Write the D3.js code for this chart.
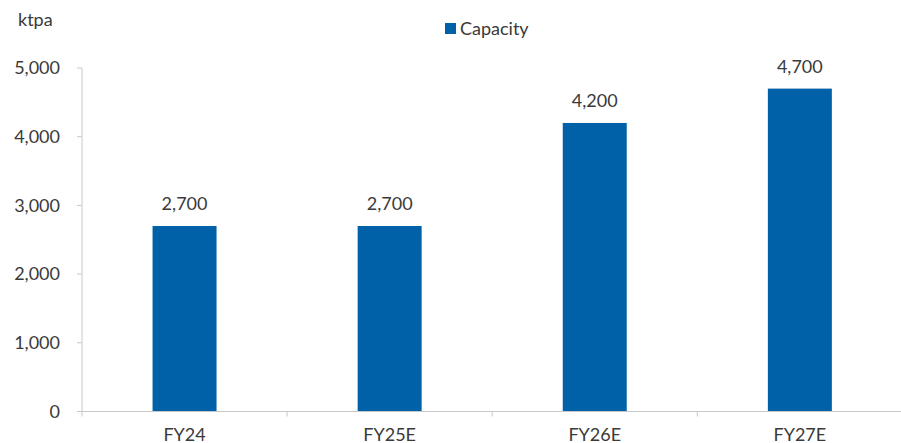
<!DOCTYPE html>
<html>
<head>
<meta charset="utf-8">
<script src="https://cdn.jsdelivr.net/npm/d3@7"></script>
<style>
  html, body { margin: 0; padding: 0; background: #fff; }
  svg text { font-family: Lato, "Open Sans", sans-serif; fill: #3a3a3a; }
</style>
</head>
<body>
<svg id="chart" width="901" height="443"></svg>
<script>
// Capacity by fiscal year (ktpa)
const categories = ["FY24", "FY25E", "FY26E", "FY27E"];
const capacity = [2700, 2700, 4200, 4700];
const yTicks = [0, 1000, 2000, 3000, 4000, 5000];
const seriesName = "Capacity";
const unitLabel = "ktpa";

const svg = d3.select("#chart");
const barColor = "#0061a8";
const axisColor = "#c8c8c8";
const fontSize = 18;

const plotLeft = 82, plotRight = 902.4, plotTop = 68, plotBottom = 411.5;

const x = d3.scaleBand()
  .domain(categories)
  .range([plotLeft, plotRight])
  .paddingInner(0.688)
  .paddingOuter(0.344);

const y = d3.scaleLinear().domain([0, 5000]).range([plotBottom, plotTop]);

const fmt = d3.format(",");

// y axis line and ticks
svg.append("line")
  .attr("x1", plotLeft).attr("x2", plotLeft)
  .attr("y1", y(5000)).attr("y2", plotBottom)
  .attr("stroke", axisColor).attr("stroke-width", 1);

svg.selectAll(".ytick").data(yTicks).enter().append("line")
  .attr("x1", plotLeft - 5).attr("x2", plotLeft)
  .attr("y1", d => y(d)).attr("y2", d => y(d))
  .attr("stroke", axisColor);

svg.selectAll(".ylab").data(yTicks).enter().append("text")
  .attr("x", 60).attr("y", d => y(d))
  .attr("dy", "0.35em")
  .attr("text-anchor", "end")
  .attr("font-size", fontSize)
  .text(d => fmt(d));

// bars
svg.selectAll(".bar").data(categories).enter().append("rect")
  .attr("x", d => x(d))
  .attr("width", x.bandwidth())
  .attr("y", (d, i) => y(capacity[i]))
  .attr("height", (d, i) => plotBottom - y(capacity[i]))
  .attr("fill", barColor);

// value labels
svg.selectAll(".vlab").data(categories).enter().append("text")
  .attr("x", d => x(d) + x.bandwidth() / 2)
  .attr("y", (d, i) => y(capacity[i]) - 16)
  .attr("text-anchor", "middle")
  .attr("font-size", fontSize)
  .text((d, i) => fmt(capacity[i]));

// x axis baseline with category dividers
svg.append("line")
  .attr("x1", plotLeft).attr("x2", plotRight)
  .attr("y1", plotBottom).attr("y2", plotBottom)
  .attr("stroke", axisColor);

const step = x.step();
const dividers = d3.range(categories.length).map(i => plotLeft + i * step);
svg.selectAll(".xdiv").data(dividers).enter().append("line")
  .attr("x1", d => d).attr("x2", d => d)
  .attr("y1", plotBottom).attr("y2", plotBottom + 5)
  .attr("stroke", axisColor);

svg.selectAll(".xlab").data(categories).enter().append("text")
  .attr("x", d => x(d) + x.bandwidth() / 2)
  .attr("y", 441)
  .attr("text-anchor", "middle")
  .attr("font-size", fontSize)
  .text(d => d);

// unit label
svg.append("text")
  .attr("x", 18).attr("y", 26)
  .attr("font-size", fontSize)
  .text(unitLabel);

// legend
svg.append("rect")
  .attr("x", 445).attr("y", 23)
  .attr("width", 11).attr("height", 11)
  .attr("fill", barColor);
svg.append("text")
  .attr("x", 460).attr("y", 35)
  .attr("font-size", fontSize)
  .text(seriesName);
</script>
</body>
</html>
